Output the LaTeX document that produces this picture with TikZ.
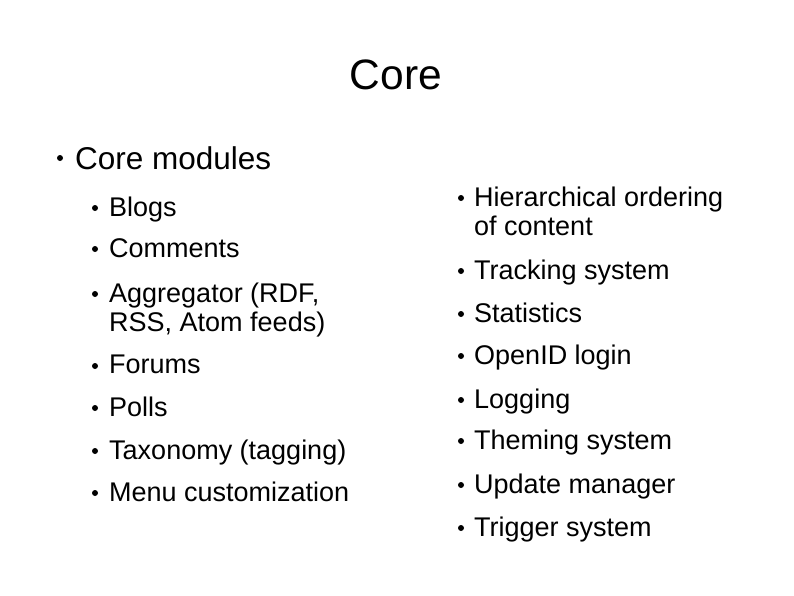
\documentclass[tikz,border=0pt]{standalone}
\usepackage{fontspec}
\setmainfont{Liberation Sans}
\tikzset{
  item/.style={anchor=west, inner sep=0pt, font=\fontsize{27}{29}\selectfont, align=left},
  dot/.style={circle, fill=black, inner sep=0pt, minimum size=6pt}
}
\begin{document}
\begin{tikzpicture}[x=1pt, y=-1pt]
  \useasboundingbox (0,0) rectangle (794,595);
  \node (title) [inner sep=0pt, font=\fontsize{42.5}{44}\selectfont] at (396,75) {Core};
  \node (d0) [dot] at (60,158) {};
  \node (core) [item, font=\fontsize{31.5}{33}\selectfont] at (75,158) {Core modules};
  % left column
  \foreach \y/\txt [count=\i] in {208/Blogs, 249/Comments, 294/{Aggregator (RDF,\\RSS, Atom feeds)},
      366/Forums, 408/Polls, 451/Taxonomy (tagging), 493/Menu customization} {
    \node (ld\i) [dot] at (95,\y) {};
    \node (l\i) [item, anchor=north west] at (109,\y-11) {\txt};
  }
  % right column
  \foreach \y/\txt [count=\i] in {198/{Hierarchical ordering\\of content}, 271/Tracking system, 314/Statistics,
      356/OpenID login, 400/Logging, 441/Theming system, 485/Update manager, 528/Trigger system} {
    \node (rd\i) [dot] at (461,\y) {};
    \node (r\i) [item, anchor=north west] at (474,\y-11) {\txt};
  }
\end{tikzpicture}
\end{document}
